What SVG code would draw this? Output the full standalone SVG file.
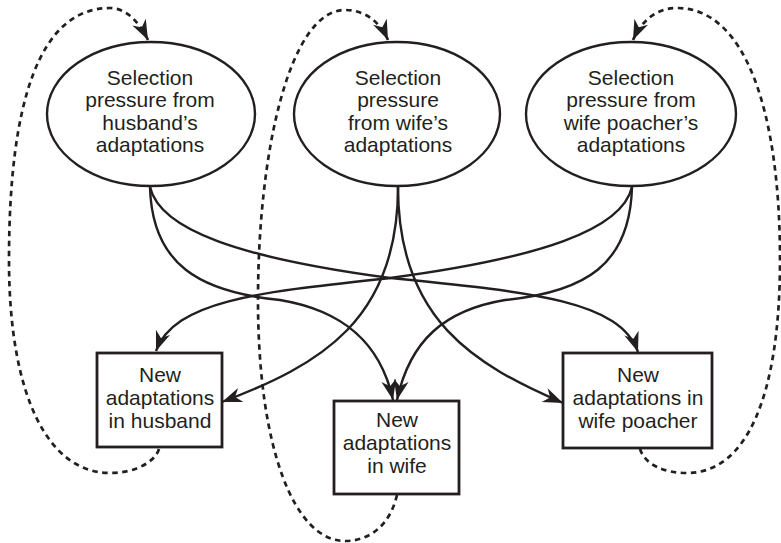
<svg xmlns="http://www.w3.org/2000/svg" width="781" height="543" viewBox="0 0 781 543">
<style>
.t{font-family:"Liberation Sans",Arial,sans-serif;font-size:21px;fill:#231f20;text-anchor:middle}
.n{fill:#fff;stroke:#231f20;stroke-width:2.4}
.b{fill:#fff;stroke:#231f20;stroke-width:2.8}
.c{fill:none;stroke:#231f20;stroke-width:2.4;marker-end:url(#ah)}
.d{fill:none;stroke:#231f20;stroke-width:2.7;stroke-dasharray:5.5 4.5;marker-end:url(#ah)}
</style>
<defs>
<marker id="ah" markerUnits="userSpaceOnUse" viewBox="-22 -9 24 18" markerWidth="24" markerHeight="18" refX="0" refY="0" orient="auto">
<path d="M0,0 L-20,-7.5 L-14,0 L-20,7.5 Z" fill="#231f20"/>
</marker>
</defs>
<rect width="781" height="543" fill="#fff"/>
<g id="connectors">
<path class="c" d="M150,187 C160,230 240,258 390,278 C530,292 620,300 638,352"/>
<path class="c" d="M632,187 C622,230 540,258 390,278 C260,292 175,300 156,351"/>
<path class="c" d="M150,187 C152,265 200,292 280,300 C340,310 380,340 393,400"/>
<path class="c" d="M632,187 C630,265 585,292 505,300 C445,310 410,340 397,400"/>
<path class="c" d="M398,187 C398,320 320,365 222,402"/>
<path class="c" d="M398,187 C398,320 475,365 563,403"/>
<path class="d" d="M159,449 C155,462 135,473 110,473 C50,473 9,400 9,260 C9,100 40,8 110,8 C125,8 138,20 148,40"/>
<path class="d" d="M397,495 C390,525 370,541 345,541 C295,541 258,450 258,300 C258,150 290,10 345,10 C365,10 380,22 388,40"/>
<path class="d" d="M640,449 C645,465 665,473 687,473 C745,473 780,400 780,260 C780,110 745,8 677,8 C657,8 642,20 633,40"/>
</g>
<g id="sel-husband">
<ellipse class="n" cx="151" cy="114" rx="104" ry="72"/>
<text class="t" x="150" y="85">Selection</text>
<text class="t" x="150" y="107">pressure from</text>
<text class="t" x="150" y="130">husband’s</text>
<text class="t" x="150" y="152">adaptations</text>
</g>
<g id="sel-wife">
<ellipse class="n" cx="397" cy="114" rx="103" ry="72"/>
<text class="t" x="398" y="85">Selection</text>
<text class="t" x="398" y="107">pressure</text>
<text class="t" x="398" y="130">from wife’s</text>
<text class="t" x="398" y="152">adaptations</text>
</g>
<g id="sel-poacher">
<ellipse class="n" cx="631" cy="114" rx="105" ry="72"/>
<text class="t" x="631" y="85">Selection</text>
<text class="t" x="631" y="107">pressure from</text>
<text class="t" x="631" y="130">wife poacher’s</text>
<text class="t" x="631" y="152">adaptations</text>
</g>
<g id="new-husband">
<rect class="b" x="97" y="353" width="125" height="94"/>
<text class="t" x="160" y="382">New</text>
<text class="t" x="160" y="405">adaptations</text>
<text class="t" x="160" y="428">in husband</text>
</g>
<g id="new-wife">
<rect class="b" x="334" y="401" width="125" height="93"/>
<text class="t" x="397" y="427">New</text>
<text class="t" x="397" y="450">adaptations</text>
<text class="t" x="397" y="473">in wife</text>
</g>
<g id="new-poacher">
<rect class="b" x="563" y="353" width="149" height="95"/>
<text class="t" x="638" y="382">New</text>
<text class="t" x="638" y="405">adaptations in</text>
<text class="t" x="638" y="428">wife poacher</text>
</g>
</svg>
